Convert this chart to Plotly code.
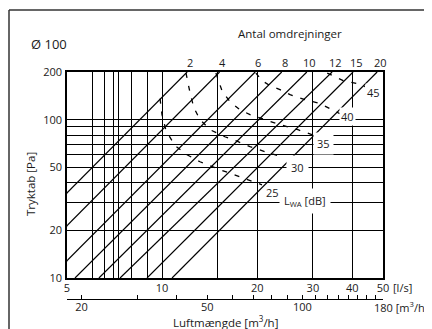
import math
import plotly.graph_objects as go

# ---------------- data ----------------
# valve settings (Antal omdrejninger) - straight lines dp ~ q^2
settings = ["2", "4", "6", "8", "10", "12", "15", "20"]
q_at_10pa = [2.7, 3.42, 4.41, 5.3, 6.31, 7.36, 8.96, 10.75]      # l/s at 10 Pa
q_at_200pa = [12.0, 15.2, 19.7, 23.9, 28.7, 34.5, 40.2, 47.9]    # l/s at 200 Pa
dp_ends = [10, 200]

# sound power curves L_WA [dB]
lwa_levels = ["25", "30", "35", "40", "45"]
lwa25_q = [9.85, 9.99, 10.29, 10.98, 11.99, 13.18, 15.25, 17.25, 19.25, 20.7]
lwa25_p = [135.8, 107.6, 85.2, 68.5, 60.0, 54.2, 48.3, 44.2, 40.5, 38.8]
lwa30_q = [11.9, 12.25, 12.6, 13.18, 14.18, 15.8, 17.4, 18.97, 21.2, 23.95]
lwa30_p = [197.0, 148.3, 119.1, 100.0, 86.4, 78.0, 72.6, 67.5, 62.7, 58.3]
lwa35_q = [14.8, 15.5, 16.4, 17.6, 18.97, 21.2, 23.6, 26.9, 30.5]
lwa35_p = [197.0, 150.4, 130.0, 115.7, 107.6, 100.0, 93.0, 86.4, 79.2]
lwa40_q = [19.8, 20.7, 21.9, 23.6, 25.4, 28.3, 31.6, 34.7, 36.5]
lwa40_p = [197.0, 176.6, 164.2, 154.9, 143.9, 133.8, 126.3, 114.0, 109.1]
lwa45_q = [33.3, 37.4, 41.4, 43.8]
lwa45_p = [197.0, 176.6, 169.0, 161.8]

# axes grids / ticks
x_grid = [5, 6, 6.55, 7, 7.3, 8, 9, 10, 15, 20, 30, 40, 50]
x_labels = ["5", "", "", "", "", "", "", "10", "", "20", "30", "40", "50"]
y_grid = [10, 20, 30, 40, 50, 60, 70, 80, 90, 100, 200]
y_labels = ["10", "20", "", "", "50", "", "", "", "", "100", "200"]
m3h_ticks = [20, 30, 40, 50, 60, 70, 80, 90, 100, 110, 120, 130, 140, 150, 160, 170, 180]
m3h_labels = ["20", "", "", "50", "", "", "", "", "100", "", "", "", "", "", "", "", ""]

# ---------------- figure ----------------
FONT = "Open Sans, Noto Sans, sans-serif"
TXT = "#1a1a1a"
fig = go.Figure()

for s, q1, q2 in zip(settings, q_at_10pa, q_at_200pa):
    fig.add_trace(go.Scatter(x=[q1, q2], y=dp_ends, mode="lines",
                             line=dict(color="black", width=1.2),
                             hoverinfo="skip", showlegend=False))

curves = [(lwa25_q, lwa25_p), (lwa30_q, lwa30_p), (lwa35_q, lwa35_p),
          (lwa40_q, lwa40_p), (lwa45_q, lwa45_p)]
for (cq, cp) in curves:
    fig.add_trace(go.Scatter(x=cq, y=cp, mode="lines",
                             line=dict(color="black", width=1.3, dash="5px,8px"),
                             hoverinfo="skip", showlegend=False))

# invisible trace for the m3/h axis
fig.add_trace(go.Scatter(x=[m3h_ticks[0], m3h_ticks[-1]], y=[10, 10], xaxis="x2",
                         mode="markers", marker=dict(opacity=0),
                         hoverinfo="skip", showlegend=False))

# page is drawn with an 8px body offset -> margins compensate
W, H = 432, 329
OFF = 8
ML, MR, MT, MB = 67 - OFF, 432 - 383 + OFF, 72 - OFF, 329 - 302 + OFF
PW, PH = W - ML - MR, H - MT - MB


def px(xp):
    return (xp - OFF - ML) / PW


def py(yp):
    return (H - MB - (yp - OFF)) / PH


ydom0 = py(278)

fig.update_layout(
    width=W, height=H,
    margin=dict(l=ML, r=MR, t=MT, b=MB, autoexpand=False),
    paper_bgcolor="white", plot_bgcolor="white",
    font=dict(family=FONT, size=11, color=TXT),
    xaxis=dict(type="log", range=[math.log10(5), math.log10(50)],
               tickvals=x_grid, ticktext=x_labels, showgrid=True,
               gridcolor="black", gridwidth=1.3, showline=True, mirror=True,
               linecolor="black", linewidth=1.6, ticks="", anchor="y",
               tickfont=dict(size=11, color=TXT), zeroline=False,
               ticklabelstandoff=-1, automargin=False),
    yaxis=dict(type="log", range=[1, math.log10(200)], domain=[ydom0, 1],
               tickvals=y_grid, ticktext=y_labels, showgrid=True,
               gridcolor="black", gridwidth=1.3, showline=True, mirror=True,
               linecolor="black", linewidth=1.6, ticks="",
               tickfont=dict(size=11, color=TXT), zeroline=False,
               ticklabelstandoff=1, automargin=False),
    xaxis2=dict(type="log", range=[math.log10(18), math.log10(180)],
                overlaying="x", anchor="free", position=py(299.3), side="bottom",
                tickvals=m3h_ticks, ticktext=m3h_labels, showgrid=False,
                showline=True, linecolor="black", linewidth=1.2,
                ticks="inside", ticklen=4, tickcolor="black", tickwidth=1,
                tickfont=dict(size=11, color=TXT), zeroline=False,
                ticklabelstandoff=-3, automargin=False),
)

ann = []
C = dict(xanchor="center", yanchor="middle", showarrow=False)
# setting labels at top
for s, q2 in zip(settings, q_at_200pa):
    ann.append(dict(x=math.log10(q2), y=math.log10(200), xref="x", yref="y",
                    text=s, yshift=10, xshift=3,
                    font=dict(size=11, color=TXT), **C))

# dB labels
lab = [("25", 22.4, 34.5, 0, None), ("30", 26.9, 50, 4, "white"),
       ("35", 32.3, 70.5, 3, "white"), ("40", 38.5, 104.4, 1, "white"),
       ("45", 46.5, 148.3, 1, "white")]
for t, q, p, bp, bg in lab:
    d = dict(x=math.log10(q), y=math.log10(p), xref="x", yref="y", text=t,
             font=dict(size=11, color=TXT), borderpad=bp, **C)
    if bg:
        d["bgcolor"] = bg
    ann.append(d)
ann.append(dict(x=math.log10(28.3), y=1.487, xref="x", yref="y",
                text="L<sub>WA</sub> [dB]", bgcolor="white",
                borderpad=4, font=dict(size=11, color=TXT), **C))

# texts
ann += [
    dict(x=px(49), y=py(44), xref="paper", yref="paper", text="Ø 100",
         font=dict(size=13, color=TXT), **C),
    dict(x=px(290), y=py(33), xref="paper", yref="paper", text="Antal omdrejninger",
         font=dict(size=11.5, color=TXT), **C),
    dict(x=px(403), y=py(287), xref="paper", yref="paper", text="[l/s]",
         font=dict(size=11, color=TXT), **C),
    dict(x=px(372), y=py(307), xref="paper", yref="paper",
         text="180 [m<sup>3</sup>/h]", font=dict(size=11, color=TXT),
         xanchor="left", yanchor="middle", showarrow=False),
    dict(x=px(225.5), y=py(321), xref="paper", yref="paper",
         text="Luftmængde [m<sup>3</sup>/h]",
         font=dict(size=11.5, color=TXT), **C),
    dict(x=px(30), y=py(184), xref="paper", yref="paper", text="Tryktab [Pa]",
         textangle=-90, font=dict(size=11.5, color=TXT), **C),
]
fig.update_layout(annotations=ann)

# outer frame (top and left visible)
fig.add_shape(type="line", xref="paper", yref="paper", x0=px(9), x1=px(445),
              y0=py(10), y1=py(10), line=dict(color="#333", width=1.5))
fig.add_shape(type="line", xref="paper", yref="paper", x0=px(9), x1=px(9),
              y0=py(10), y1=py(340), line=dict(color="#333", width=1.5))

fig.write_html("out.html")
